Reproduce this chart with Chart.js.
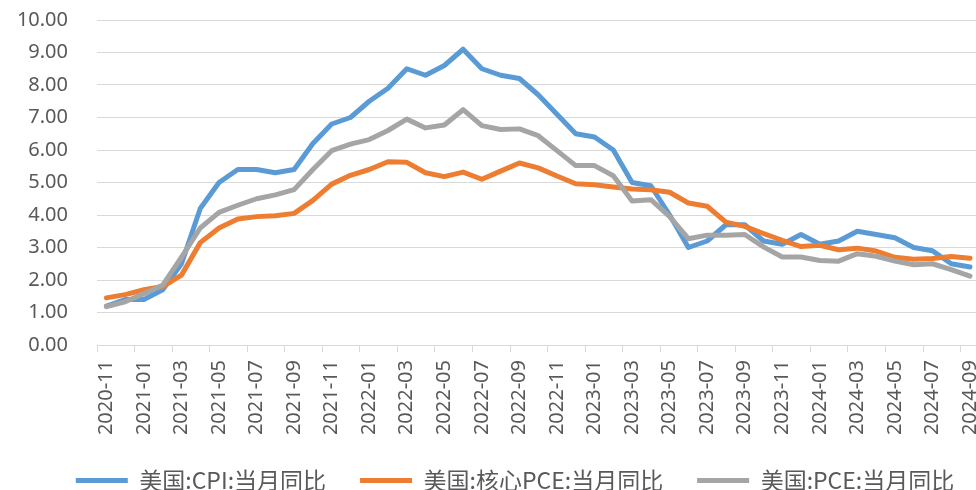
<!DOCTYPE html>
<html>
<head>
<meta charset="utf-8">
<script src="https://cdn.jsdelivr.net/npm/chart.js@4/dist/chart.umd.min.js"></script>
<style>
    html, body { margin: 0; padding: 0; background: #fff; overflow: hidden; }
    #wrap { width: 1002px; height: 490px; position: relative; }
</style>
</head>
<body>
<div id="wrap"><canvas id="cpiChart"></canvas></div>
<script>
const meses = [
    '2020-11', '2020-12',
    '2021-01', '2021-02', '2021-03', '2021-04', '2021-05', '2021-06',
    '2021-07', '2021-08', '2021-09', '2021-10', '2021-11', '2021-12',
    '2022-01', '2022-02', '2022-03', '2022-04', '2022-05', '2022-06',
    '2022-07', '2022-08', '2022-09', '2022-10', '2022-11', '2022-12',
    '2023-01', '2023-02', '2023-03', '2023-04', '2023-05', '2023-06',
    '2023-07', '2023-08', '2023-09', '2023-10', '2023-11', '2023-12',
    '2024-01', '2024-02', '2024-03', '2024-04', '2024-05', '2024-06',
    '2024-07', '2024-08', '2024-09'
];

// 美国:CPI:当月同比
const cpi = [
    1.2, 1.4,
    1.4, 1.7, 2.5, 4.2, 5.0, 5.4, 5.4, 5.3, 5.4, 6.2, 6.8, 7.0,
    7.5, 7.9, 8.5, 8.3, 8.6, 9.1, 8.5, 8.3, 8.2, 7.7, 7.1, 6.5,
    6.4, 6.0, 5.0, 4.9, 4.0, 3.0, 3.2, 3.7, 3.7, 3.2, 3.1, 3.4,
    3.1, 3.2, 3.5, 3.4, 3.3, 3.0, 2.9, 2.5, 2.4
];

// 美国:核心PCE:当月同比
const corePce = [
    1.45, 1.55,
    1.7, 1.8, 2.15, 3.15, 3.6, 3.88, 3.95, 3.98, 4.05, 4.45, 4.95, 5.22,
    5.4, 5.64, 5.62, 5.3, 5.18, 5.32, 5.1, 5.35, 5.6, 5.45, 5.2, 4.96,
    4.93, 4.86, 4.8, 4.78, 4.7, 4.37, 4.27, 3.78, 3.65, 3.43, 3.22, 3.03,
    3.07, 2.93, 2.98, 2.89, 2.7, 2.64, 2.66, 2.72, 2.67
];

// 美国:PCE:当月同比
const pce = [
    1.18, 1.33,
    1.58, 1.84, 2.7, 3.6, 4.08, 4.3, 4.5, 4.62, 4.78, 5.4, 5.98, 6.18,
    6.32, 6.6, 6.95, 6.68, 6.77, 7.24, 6.75, 6.63, 6.65, 6.44, 5.98, 5.52,
    5.52, 5.21, 4.43, 4.47, 3.95, 3.27, 3.38, 3.38, 3.4, 3.02, 2.71, 2.71,
    2.6, 2.58, 2.81, 2.73, 2.58, 2.47, 2.5, 2.32, 2.12
];

const yTicks = [0, 1, 2, 3, 4, 5, 6, 7, 8, 9, 10];

const textColor = '#595959';
const gridColor = '#d9d9d9';

function serie(label, data, color, order) {
    return {
        label: label,
        data: data,
        borderColor: color,
        backgroundColor: color,
        borderWidth: 5,
        borderCapStyle: 'round',
        borderJoinStyle: 'round',
        pointRadius: 0,
        pointHoverRadius: 0,
        tension: 0,
        fill: false,
        order: order
    };
}

// legenda um pouco mais baixa e deslocada para a direita
const legendShift = {
    id: 'legendShift',
    beforeInit(chart) {
        const fit = chart.legend.fit;
        chart.legend.fit = function () {
            fit.bind(chart.legend)();
            this.height -= 12;
        };
    },
    afterLayout(chart) {
        const lg = chart.legend;
        lg.left += 28;
        lg.width = lg.right - lg.left;
    }
};

const ctx = document.getElementById('cpiChart').getContext('2d');
new Chart(ctx, {
    type: 'line',
    data: {
        labels: meses,
        datasets: [
            serie('美国:CPI:当月同比', cpi, '#5b9bd5', 3),
            serie('美国:核心PCE:当月同比', corePce, '#ed7d31', 2),
            serie('美国:PCE:当月同比', pce, '#a5a5a5', 1)
        ]
    },
    plugins: [legendShift],
    options: {
        responsive: true,
        maintainAspectRatio: false,
        animation: false,
        layout: {
            padding: { top: 20, left: 0, right: 0, bottom: 0 }
        },
        scales: {
            x: {
                offset: true,
                afterFit: (s) => { s.height = 90; },
                border: { display: true, color: gridColor, width: 1 },
                grid: {
                    offset: true,
                    drawOnChartArea: false,
                    drawTicks: true,
                    tickLength: 7,
                    tickColor: (c) => (c.index % 2 === 0 ? gridColor : 'rgba(0,0,0,0)')
                },
                ticks: {
                    autoSkip: false,
                    minRotation: 90,
                    maxRotation: 90,
                    padding: 8,
                    color: textColor,
                    font: { family: '"Noto Sans"', size: 20 },
                    callback: function (v, i) {
                        return i % 2 === 0 ? this.getLabelForValue(v) : '';
                    }
                }
            },
            y: {
                min: 0,
                max: 10,
                afterBuildTicks: (s) => { s.ticks = yTicks.map(v => ({ value: v })); },
                afterFit: (s) => { s.width = 97; },
                border: { display: false },
                grid: {
                    color: gridColor,
                    lineWidth: 1,
                    drawTicks: true,
                    tickLength: 29,
                    tickColor: 'rgba(0,0,0,0)'
                },
                ticks: {
                    padding: 0,
                    color: textColor,
                    font: { family: '"Noto Sans"', size: 20 },
                    callback: (v) => Number(v).toFixed(2)
                }
            }
        },
        plugins: {
            legend: {
                position: 'bottom',
                labels: {
                    color: textColor,
                    font: { family: '"Noto Sans CJK SC"', size: 23 },
                    boxWidth: 52,
                    boxHeight: 5,
                    padding: 34,
                    sort: (a, b) => a.datasetIndex - b.datasetIndex,
                    generateLabels: (chart) => {
                        const items = Chart.defaults.plugins.legend.labels.generateLabels(chart);
                        items.forEach(it => { it.lineWidth = 0; });
                        return items;
                    }
                }
            },
            tooltip: { enabled: false }
        }
    }
});
</script>
</body>
</html>
